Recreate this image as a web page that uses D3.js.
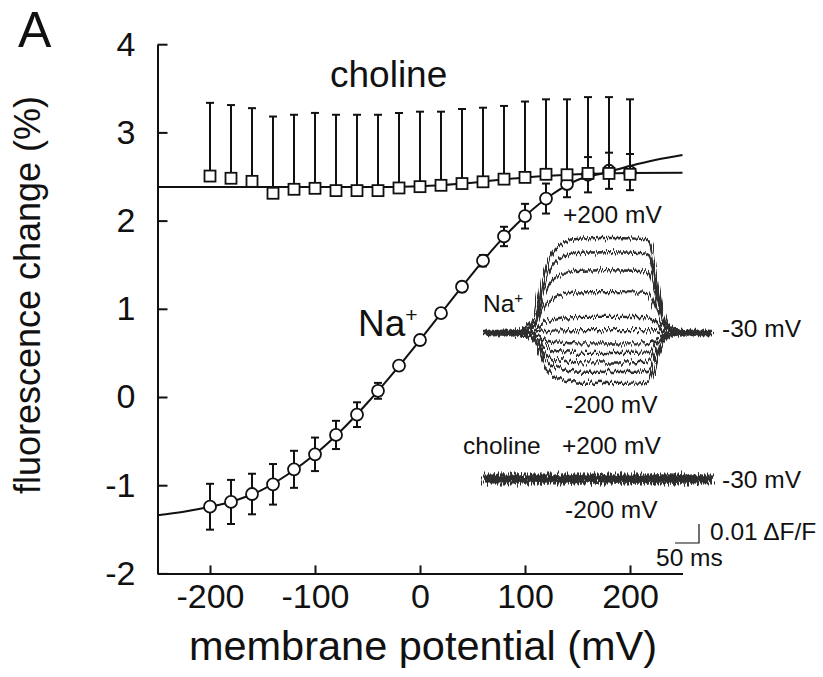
<!DOCTYPE html>
<html>
<head>
<meta charset="utf-8">
<script src="https://cdn.jsdelivr.net/npm/d3@7/dist/d3.min.js"></script>
<style>
  html, body { margin: 0; padding: 0; background: #fff; }
  svg { display: block; font-family: "Liberation Sans", Arial, Helvetica, sans-serif; }
</style>
</head>
<body>
<svg id="chart" width="823" height="677"></svg>
<script>
// Membrane potentials of the test steps (mV)
const vm = [-200, -180, -160, -140, -120, -100, -80, -60, -40, -20, 0,
            20, 40, 60, 80, 100, 120, 140, 160, 180, 200];

// Na+ : mean fluorescence change (%) and SEM
const naMean = [-1.244, -1.19, -1.10, -0.99, -0.82, -0.65, -0.43, -0.20, 0.07, 0.355, 0.646,
                0.95, 1.25, 1.545, 1.82, 2.05, 2.25, 2.415, 2.52, 2.565, 2.55];
const naErr  = [0.26, 0.25, 0.23, 0.23, 0.21, 0.19, 0.16, 0.14, 0.09, 0.05, 0.05,
                0.04, 0.05, 0.065, 0.11, 0.14, 0.17, 0.15, 0.20, 0.205, 0.205];

// choline : mean fluorescence change (%) and SEM (upper bars only)
const cholMean = [2.505, 2.48, 2.445, 2.31, 2.355, 2.366, 2.34, 2.34, 2.34, 2.37, 2.385,
                  2.40, 2.42, 2.44, 2.47, 2.49, 2.525, 2.52, 2.535, 2.535, 2.525];
const cholErr  = [0.83, 0.83, 0.83, 0.87, 0.845, 0.855, 0.86, 0.86, 0.86, 0.85, 0.85,
                  0.835, 0.845, 0.84, 0.83, 0.86, 0.85, 0.855, 0.865, 0.865, 0.85];

// Fitted curves
const naFitVm = [-250, -225, -200, -175, -150, -125, -100, -75, -50, -25, 0,
                 25, 50, 75, 100, 125, 150, 175, 200, 225, 250];
const naFit   = [-1.34, -1.30, -1.245, -1.17, -1.05, -0.87, -0.65, -0.38, -0.065, 0.28, 0.646,
                 1.025, 1.40, 1.75, 2.05, 2.29, 2.46, 2.54, 2.62, 2.69, 2.745];
const cholFitVm = [-250, -200, -150, -100, -50, 0, 50, 100, 150, 200, 250];
const cholFit   = [2.38, 2.38, 2.38, 2.38, 2.38, 2.39, 2.43, 2.49, 2.525, 2.54, 2.543];

// Axis ticks
const xTicks = [-200, -100, 0, 100, 200];
const yTicks = [-2, -1, 0, 1, 2, 3, 4];

// Inset: optical recordings (time course normalised to steady state)
const traceT = [0, 104, 112, 120, 128, 140, 156, 175, 195, 337, 344, 350, 356, 364, 372, 385, 470];
const traceF = [0, 0, 0.35, 0.58, 0.72, 0.85, 0.93, 0.98, 1, 1, 0.96, 0.82, 0.62, 0.38, 0.17, 0, 0];
const traceSteps   = [200, 160, 120, 80, 40, 0, -40, -80, -120, -160, -200];
const naTraceLevel = [0.050, 0.0425, 0.033, 0.0215, 0.0085, 0.0015, -0.0055, -0.0105, -0.0155, -0.0205, -0.0263];
const cholTraceLevel = [0, 0, 0, 0, 0, 0, 0, 0, 0, 0, 0];

const svg = d3.select("#chart");
const ink = "#111";

const x = d3.scaleLinear().domain([-250, 250]).range([157.5, 682.5]);
const y = d3.scaleLinear().domain([-2, 4]).range([573.4, 44.2]);

// ---- axes ----
const xAxis = svg.append("g")
  .attr("transform", `translate(0,${y(-2)})`)
  .call(d3.axisBottom(x).tickValues(xTicks).tickFormat(d => String(d))
        .tickSizeInner(-8).tickSizeOuter(0).tickPadding(10));
const yAxis = svg.append("g")
  .attr("transform", `translate(${x(-250)},0)`)
  .call(d3.axisLeft(y).tickValues(yTicks).tickFormat(d => String(d))
        .tickSizeInner(-10).tickSizeOuter(0).tickPadding(22));
[xAxis, yAxis].forEach(g => {
  g.attr("font-family", null).attr("font-size", null);
  g.select(".domain").attr("stroke", ink).attr("stroke-width", 2);
  g.selectAll(".tick line").attr("stroke", ink).attr("stroke-width", 2);
  g.selectAll(".tick text").attr("fill", ink).style("font-size", "34px");
});

// axis titles
svg.append("text")
  .attr("x", 423).attr("y", 660)
  .attr("text-anchor", "middle").attr("fill", ink)
  .style("font-size", "41.5px")
  .text("membrane potential (mV)");
svg.append("text")
  .attr("transform", "translate(40,295) rotate(-90)")
  .attr("text-anchor", "middle").attr("fill", ink)
  .style("font-size", "36px")
  .text("fluorescence change (%)");
svg.append("text")
  .attr("x", 18).attr("y", 47).attr("fill", ink)
  .style("font-size", "50px").text("A");

// ---- fitted curves ----
const fitLine = d3.line().curve(d3.curveMonotoneX);
svg.append("path")
  .attr("d", fitLine(cholFitVm.map((v, i) => [x(v), y(cholFit[i])])))
  .attr("fill", "none").attr("stroke", ink).attr("stroke-width", 2);
svg.append("path")
  .attr("d", fitLine(naFitVm.map((v, i) => [x(v), y(naFit[i])])))
  .attr("fill", "none").attr("stroke", ink).attr("stroke-width", 2);

// ---- Na+ points ----
const cap = 4;
const naG = svg.append("g");
vm.forEach((v, i) => {
  const cx = x(v), lo = y(naMean[i] - naErr[i]), hi = y(naMean[i] + naErr[i]);
  naG.append("line").attr("x1", cx).attr("x2", cx).attr("y1", lo).attr("y2", hi)
    .attr("stroke", ink).attr("stroke-width", 2);
  [lo, hi].forEach(yy => naG.append("line")
    .attr("x1", cx - cap).attr("x2", cx + cap).attr("y1", yy).attr("y2", yy)
    .attr("stroke", ink).attr("stroke-width", 2));
});
naG.selectAll("circle").data(vm).join("circle")
  .attr("cx", d => x(d)).attr("cy", (d, i) => y(naMean[i])).attr("r", 6)
  .attr("fill", "#fff").attr("stroke", ink).attr("stroke-width", 1.8);

// ---- choline points ----
const chG = svg.append("g");
vm.forEach((v, i) => {
  const cx = x(v), top = y(cholMean[i] + cholErr[i]);
  chG.append("line").attr("x1", cx).attr("x2", cx).attr("y1", y(cholMean[i])).attr("y2", top)
    .attr("stroke", ink).attr("stroke-width", 2);
  chG.append("line").attr("x1", cx - cap).attr("x2", cx + cap).attr("y1", top).attr("y2", top)
    .attr("stroke", ink).attr("stroke-width", 2);
});
const sq = 11;
chG.selectAll("rect").data(vm).join("rect")
  .attr("x", d => x(d) - sq / 2).attr("y", (d, i) => y(cholMean[i]) - sq / 2)
  .attr("width", sq).attr("height", sq)
  .attr("fill", "#fff").attr("stroke", ink).attr("stroke-width", 1.8);

// series labels
svg.append("text").attr("x", 330).attr("y", 87).attr("fill", ink)
  .style("font-size", "37px").text("choline");
const naLab = svg.append("text").attr("x", 358).attr("y", 336).attr("fill", ink)
  .style("font-size", "37px");
naLab.append("tspan").text("Na");
naLab.append("tspan").attr("dy", -14).style("font-size", "21px").text("+");

// ---- inset recordings ----
// Each trace gets its own recording noise: turbulence that varies along time
// only, so every sample column is shifted up or down as a whole.
const defs = svg.append("defs");
function noiseFilter(id, freq, scale, seed) {
  const f = defs.append("filter").attr("id", id)
    .attr("filterUnits", "userSpaceOnUse")
    .attr("x", 460).attr("y", 200).attr("width", 280).attr("height", 320);
  f.append("feTurbulence").attr("type", "fractalNoise")
    .attr("baseFrequency", freq).attr("numOctaves", 3).attr("seed", seed).attr("result", "n");
  f.append("feDisplacementMap").attr("in", "SourceGraphic").attr("in2", "n")
    .attr("scale", scale).attr("xChannelSelector", "R").attr("yChannelSelector", "G");
}

const tx = d3.scaleLinear().domain([0, 470]).range([485, 710.6]);   // ms -> px
const tyNa = d3.scaleLinear().domain([0, 0.01]).range([333, 314]);   // dF/F -> px
const tyCh = d3.scaleLinear().domain([0, 0.01]).range([479, 460]);
const traceLine = d3.line().curve(d3.curveBasis);

naTraceLevel.forEach((lv, k) => {
  noiseFilter("jitNa" + k, "0.6 0.004", 10, 11 + k * 7);
  svg.append("path")
    .attr("filter", `url(#jitNa${k})`)
    .attr("d", traceLine(traceT.map((t, i) => [tx(t), tyNa(lv * traceF[i])])))
    .attr("fill", "none").attr("stroke", "#2e2e2e").attr("stroke-width", 2.4);
});
cholTraceLevel.forEach((lv, k) => {
  noiseFilter("jitCh" + k, "0.7 0.004", 22, 5 + k * 13);
  svg.append("path")
    .attr("filter", `url(#jitCh${k})`)
    .attr("d", traceLine(traceT.map((t, i) => [tx(t), tyCh(lv * traceF[i])])))
    .attr("fill", "none").attr("stroke", "#2e2e2e").attr("stroke-width", 3);
});

// inset labels
const small = "24.5px";
function label(tx_, ty_, s) {
  return svg.append("text").attr("x", tx_).attr("y", ty_).attr("fill", ink)
    .style("font-size", small).text(s);
}
label(563, 223, "+200 mV");
label(565, 413, "-200 mV");
label(722, 337, "-30 mV");
label(463, 454, "choline");
label(562, 454, "+200 mV");
label(722, 488, "-30 mV");
label(565, 518, "-200 mV");
const naIn = svg.append("text").attr("x", 483).attr("y", 312).attr("fill", ink).style("font-size", small);
naIn.append("tspan").text("Na");
naIn.append("tspan").attr("dy", -9).style("font-size", "15px").text("+");

// scale bar: 50 ms by 0.01 dF/F
const sbX = 699, sbY = 543;
const sbW = tx(50) - tx(0), sbH = tyNa(0) - tyNa(0.01);
svg.append("path")
  .attr("d", `M${sbX - sbW},${sbY}H${sbX}V${sbY - sbH}`)
  .attr("fill", "none").attr("stroke", ink).attr("stroke-width", 1.2);
label(710, 540, "0.01 \u0394F/F");
label(656, 566, "50 ms");
</script>
</body>
</html>
